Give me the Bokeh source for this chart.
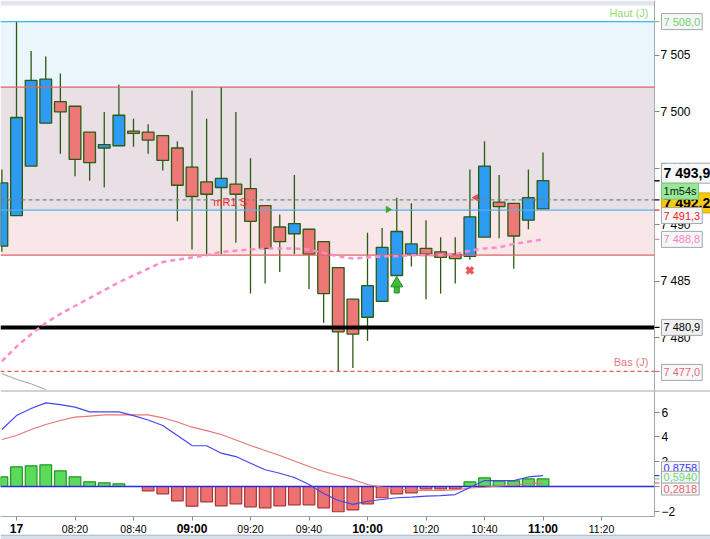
import math
from bokeh.plotting import figure
from bokeh.layouts import column
from bokeh.models import (Range1d, FixedTicker, Span, BoxAnnotation, ColumnDataSource, LinearAxis)
from bokeh.core.properties import value
from bokeh.embed import file_html
from bokeh.resources import INLINE

# ---------------- data ----------------
times = ["07:55", "08:00", "08:05", "08:10", "08:15", "08:20", "08:25", "08:30", "08:35", "08:40",
         "08:45", "08:50", "08:55", "09:00", "09:05", "09:10", "09:15", "09:20", "09:25", "09:30",
         "09:35", "09:40", "09:45", "09:50", "09:55", "10:00", "10:05", "10:10", "10:15", "10:20",
         "10:25", "10:30", "10:35", "10:40", "10:45", "10:50", "10:55", "11:00"]

opens = [7488.1, 7490.8, 7495.2, 7499.0, 7500.9, 7500.5, 7498.2, 7496.8, 7497.0, 7498.3,
         7498.2, 7497.9, 7496.8, 7495.1, 7493.8, 7493.3, 7493.6, 7493.2, 7491.7, 7489.8,
         7489.2, 7489.6, 7488.5, 7486.2, 7483.4, 7481.8, 7483.2, 7485.5, 7487.4, 7487.9,
         7487.6, 7487.4, 7487.2, 7488.9, 7492.0, 7491.9, 7490.4, 7491.4]
highs = [7494.9, 7508.0, 7505.4, 7504.9, 7503.4, 7500.5, 7498.2, 7500.0, 7502.4, 7499.4,
         7498.9, 7497.9, 7497.4, 7501.9, 7499.4, 7502.2, 7500.0, 7495.9, 7491.7, 7490.9,
         7494.4, 7489.6, 7488.5, 7486.2, 7483.4, 7489.3, 7489.7, 7492.4, 7491.9, 7490.4,
         7488.9, 7488.9, 7494.9, 7497.4, 7494.4, 7491.9, 7494.9, 7496.4]
lows = [7487.6, 7490.8, 7495.2, 7499.0, 7496.3, 7494.3, 7493.9, 7493.3, 7497.0, 7496.9,
        7496.3, 7494.8, 7490.3, 7487.8, 7487.4, 7487.4, 7488.4, 7483.9, 7484.8, 7485.8,
        7487.4, 7484.3, 7481.3, 7477.0, 7477.3, 7479.7, 7483.2, 7485.5, 7486.3, 7483.4,
        7483.9, 7484.8, 7486.9, 7488.9, 7488.8, 7486.1, 7489.6, 7491.4]
closes = [7493.7, 7499.5, 7502.8, 7502.9, 7500.0, 7495.8, 7495.5, 7497.1, 7499.7, 7498.1,
          7497.5, 7495.7, 7493.5, 7492.5, 7492.7, 7494.1, 7492.7, 7490.3, 7487.9, 7488.5,
          7490.1, 7487.4, 7483.9, 7480.5, 7480.3, 7484.6, 7488.0, 7489.4, 7488.3, 7487.4,
          7487.1, 7487.0, 7490.7, 7495.2, 7491.6, 7489.0, 7492.4, 7493.9]

ma_pink = [7477.9, 7479.2, 7480.3, 7481.3, 7482.1, 7482.8, 7483.5, 7484.2, 7484.9, 7485.5,
           7486.1, 7486.7, 7486.9, 7487.1, 7487.3, 7487.6, 7487.7, 7487.8, 7487.9, 7487.9,
           7487.9, 7487.8, 7487.5, 7487.2, 7487.0, 7487.1, 7487.2, 7487.2, 7487.3, 7487.3,
           7487.3, 7487.4, 7487.7, 7487.9, 7488.0, 7488.3, 7488.5, 7488.7]

ma_grey_times = ["07:55", "08:00", "08:05", "08:10"]
ma_grey = [7476.8, 7476.3, 7475.9, 7475.4]

macd = [4.60, 5.73, 6.30, 6.76, 6.62, 6.41, 6.03, 6.03, 6.03, 5.73,
        5.37, 4.93, 4.12, 3.31, 3.29, 2.69, 2.42, 1.88, 1.35, 1.07,
        0.73, 0.16, -0.57, -1.13, -1.45, -1.19, -1.05, -0.91, -0.86, -0.78,
        -0.73, -0.65, -0.08, 0.48, 0.48, 0.48, 0.77, 0.88]
signal = [3.80, 4.12, 4.60, 5.01, 5.33, 5.60, 5.69, 5.78, 5.79, 5.79,
          5.78, 5.55, 5.21, 4.79, 4.52, 4.20, 3.76, 3.31, 2.91, 2.50,
          2.06, 1.62, 1.21, 0.89, 0.57, 0.16, -0.06, -0.20, -0.32, -0.32,
          -0.32, -0.28, -0.12, -0.06, 0.04, 0.12, 0.24, 0.28]
histo = [0.78, 1.59, 1.67, 1.75, 1.27, 0.78, 0.38, 0.30, 0.22, 0.0,
         -0.35, -0.59, -1.16, -1.59, -1.24, -1.56, -1.40, -1.64, -1.72, -1.56,
         -1.48, -1.48, -1.72, -2.04, -1.88, -1.40, -0.91, -0.59, -0.51, -0.19,
         -0.19, -0.19, 0.38, 0.70, 0.46, 0.46, 0.62, 0.62]

day_high = 7508.0
day_low = 7477.0
pivot_r1 = 7502.2
pivot_mr1 = 7491.3
pivot_p = 7487.3
last_price = 7492.2
support = 7480.9

tick_times = ["08:00", "08:20", "08:40", "09:00", "09:20", "09:40", "10:00", "10:20", "10:40", "11:00", "11:20"]
tick_texts = ["17", "08:20", "08:40", "09:00", "09:20", "09:40", "10:00", "10:20", "10:40", "11:00", "11:20"]
tick_bold = [True, False, False, True, False, False, True, False, False, True, False]

price_ticks = [7480, 7485, 7490, 7495, 7500, 7505]
macd_ticks = [-2, 0, 2, 4, 6]

buy_arrow = ("10:10", 7484.8)
sell_cross = ("10:35", 7485.95)
green_flag = ("10:07", 7491.35)
red_flag = ("10:37", 7492.4)

# ---------------- helpers ----------------
def tm(s):
    h, m = s.split(":")
    return int(h) * 60 + int(m) - 480

FONT = "Liberation Sans"
AXC = "#A0A8B0"
t = [tm(s) for s in times]
x_start, x_end = -5.47, 237.26
axis_x = 218.12           # time at which the value scales are drawn
px = 1 / 2.925            # minutes per pixel
x_range = Range1d(x_start, x_end)


def style_axis(a, size="12px"):
    a.major_label_text_font = FONT
    a.major_label_text_font_size = size
    a.major_label_text_color = "black"
    a.major_tick_in = 0
    a.minor_tick_in = 0
    a.minor_tick_out = 0
    a.axis_line_color = AXC
    a.major_tick_line_color = "#808890"


def hline(p, yv, color, width=1.2, dash="solid", x1=None):
    p.segment(x0=[x_start], x1=[axis_x if x1 is None else x1], y0=[yv], y1=[yv], line_color=color,
              line_width=width, line_dash=dash)


def tag(p, text, yv, color, bg="#F6F7F8", border=AXC, bold=False, size="11px", dy=0):
    r1 = p.segment(x0=[axis_x], x1=[axis_x + 5 * px], y0=[yv], y1=[yv], line_color=color,
                   line_width=1.2)
    r2 = p.text(x=[axis_x], y=[yv], text=[text], x_offset=7, y_offset=-dy,
                text_font=value(FONT), text_font_size=size,
                text_font_style="bold" if bold else "normal", text_color=color,
                text_align="left", text_baseline="middle",
                background_fill_color=bg, background_fill_alpha=1,
                border_line_color=border, border_line_width=1, padding=2)
    r1.level = "overlay"
    r2.level = "overlay"


# ---------------- price panel ----------------
p1 = figure(width=710, height=390, x_range=x_range, y_range=Range1d(7475.31, 7509.87),
            output_backend="svg", toolbar_location=None, x_axis_location=None,
            y_axis_location=None, min_border_left=0, min_border_right=0,
            min_border_top=0, min_border_bottom=0)
p1.xgrid.visible = False
p1.ygrid.visible = False
p1.outline_line_color = None
p1.background_fill_color = "white"
p1.border_fill_color = "white"

ax = LinearAxis(fixed_location=axis_x, ticker=FixedTicker(ticks=price_ticks),
                major_label_overrides={v: "7 " + str(v)[1:] for v in price_ticks})
style_axis(ax)
ax.major_tick_out = 5
ax.major_label_standoff = 1
p1.add_layout(ax, "right")

# top tab strip and background zones
p1.add_layout(BoxAnnotation(bottom=7509.43, right=axis_x, fill_color="#E2E6EA", fill_alpha=1,
                            line_color=None, level="underlay"))
p1.add_layout(BoxAnnotation(bottom=pivot_r1, top=day_high, right=axis_x, fill_color="#EAF6FC",
                            fill_alpha=1, line_color=None, level="underlay"))
p1.add_layout(BoxAnnotation(bottom=pivot_mr1, top=pivot_r1, right=axis_x, fill_color="#E9E0E5",
                            fill_alpha=1, line_color=None, level="underlay"))
p1.add_layout(BoxAnnotation(bottom=pivot_p, top=pivot_mr1, right=axis_x, fill_color="#F8E6E8",
                            fill_alpha=1, line_color=None, level="underlay"))

p1.line([tm(s) for s in ma_grey_times], ma_grey, line_color="#A0A0A0", line_width=1)

# candles
src = ColumnDataSource(dict(
    t=t, h=highs, l=lows,
    top=[max(o, c) for o, c in zip(opens, closes)],
    bot=[min(o, c) for o, c in zip(opens, closes)],
    fill=["#2E9BF2" if c >= o else "#EE7878" for o, c in zip(opens, closes)],
))
p1.segment(x0="t", y0="h", x1="t", y1="l", source=src, line_color="#2B5A12", line_width=1.3)
p1.vbar(x="t", width=4.0, top="top", bottom="bot", fill_color="fill", line_color="#2B5A12",
        line_width=1.3, source=src)

# horizontal levels
hline(p1, day_high, "#3CB8F0")
hline(p1, pivot_r1, "#E06464")
hline(p1, pivot_mr1, "#5AB0EA")
hline(p1, pivot_p, "#E06464")
hline(p1, last_price, "#808080", dash="4 3")
hline(p1, support, "black", width=4)
hline(p1, day_low, "#E05A5A", dash="4 3")

p1.line(t, ma_pink, line_color="#FF8CC8", line_width=2.5, line_dash="5 4")

# signals
p1.vbar(x=[tm(buy_arrow[0])], top=[buy_arrow[1] - 0.25], bottom=[buy_arrow[1] - 0.85], width=1.7,
        fill_color="#3CC03C", line_color="#2A8A2A", line_width=1)
p1.scatter(x=[tm(buy_arrow[0])], y=[buy_arrow[1]], marker="triangle", size=12,
           fill_color="#3CC03C", line_color="#2A8A2A", line_width=1)
p1.scatter(x=[tm(sell_cross[0])], y=[sell_cross[1]], marker="x", size=9, line_color="#E85A5A",
           line_width=3.5)
p1.scatter(x=[tm(green_flag[0])], y=[green_flag[1]], marker="triangle", size=6, angle=-math.pi / 2,
           fill_color="#30B030", line_color="#30B030")
p1.scatter(x=[tm(red_flag[0])], y=[red_flag[1]], marker="triangle", size=6, angle=math.pi / 2,
           fill_color="#E05050", line_color="#E05050")

# in-chart texts
p1.text(x=[axis_x], y=[day_high], x_offset=-6, y_offset=-3, text=["Haut (J)"],
        text_font=value(FONT), text_font_size="11px", text_color="#96DC6E",
        text_align="right", text_baseline="bottom")
p1.text(x=[axis_x], y=[day_low], x_offset=-6, y_offset=-3, text=["Bas (J)"],
        text_font=value(FONT), text_font_size="11px", text_color="#E87A84",
        text_align="right", text_baseline="bottom")
r_mr1 = p1.text(x=[67.3], y=[pivot_mr1], y_offset=-2, text=["mR1 S"], text_font=value(FONT),
                text_font_size="11px", text_color="#F02828", text_align="left",
                text_baseline="bottom")
r_mr1.level = "overlay"

# right side value tags
tag(p1, "7 508,0", day_high, "#70D470")
tag(p1, "7 492,2", last_price, "black", bg="#F9C812", border="#D8A800", bold=True, size="14px", dy=-3)
tag(p1, "7 493,9", closes[-1], "black", bold=True, size="14px", dy=7.5)
tag(p1, "1m54s", closes[-1], "#0A2A0A", bg="#9BE69B", border="#7CC87C", size="11px", dy=-10.5)
tag(p1, "7 491,3", pivot_mr1, "#F01E1E", dy=-5.5)
tag(p1, "7 488,8", ma_pink[-1], "#FF80C0", dy=0)
tag(p1, "7 480,9", support, "black", bg="#F0F0F0", dy=0)
tag(p1, "7 477,0", day_low, "#E86878", dy=-1)

# ---------------- MACD panel ----------------
axis_y = -2.423           # value at which the time scale is drawn
y2 = Range1d(-4.281, 7.755)
p2 = figure(width=710, height=149, x_range=x_range, y_range=y2,
            output_backend="svg", toolbar_location=None, x_axis_location=None,
            y_axis_location=None, min_border_left=0, min_border_right=0,
            min_border_top=0, min_border_bottom=0)
p2.xgrid.visible = False
p2.ygrid.visible = False
p2.outline_line_color = None
p2.background_fill_color = "white"
p2.border_fill_color = "white"
p2.add_layout(Span(location=y2.end, dimension="width", line_color=AXC, line_width=2))
# bottom window strip
p2.add_layout(BoxAnnotation(top=-3.934, bottom=y2.start, fill_color="#D6E0EA", fill_alpha=1,
                            line_color=None, level="underlay"))
hline(p2, -3.934, "#A8B6C4", width=1, x1=x_end)

ay = LinearAxis(fixed_location=axis_x, ticker=FixedTicker(ticks=macd_ticks), bounds=(axis_y, y2.end))
style_axis(ay)
ay.major_tick_out = 5
ay.major_label_standoff = 2
p2.add_layout(ay, "right")

tick_pos = [tm(s) for s in tick_times]
norm_pos = [pv for pv, b in zip(tick_pos, tick_bold) if not b]
bold_pos = [pv for pv, b in zip(tick_pos, tick_bold) if b]
ax_n = LinearAxis(fixed_location=axis_y, ticker=FixedTicker(ticks=norm_pos),
                  major_label_overrides={pv: txt for pv, txt, b in zip(tick_pos, tick_texts, tick_bold) if not b},
                  bounds=(x_start, axis_x))
style_axis(ax_n, "10.5px")
ax_n.major_tick_out = 4
ax_n.major_label_standoff = 3
p2.add_layout(ax_n, "below")
ax_b = LinearAxis(fixed_location=axis_y, ticker=FixedTicker(ticks=bold_pos),
                  major_label_overrides={pv: txt for pv, txt, b in zip(tick_pos, tick_texts, tick_bold) if b},
                  bounds=(x_start, axis_x))
style_axis(ax_b, "12px")
ax_b.major_label_text_font_style = "bold"
ax_b.major_tick_out = 4
ax_b.major_label_standoff = 2
p2.add_layout(ax_b, "below")

hsrc = ColumnDataSource(dict(
    t=t, v=histo,
    fill=["#5ADC5A" if v >= 0 else "#EC7272" for v in histo],
    line=["#22962A" if v >= 0 else "#A83434" for v in histo],
))
p2.vbar(x="t", top="v", bottom=0, width=4.0, fill_color="fill", line_color="line", line_width=1.2,
        source=hsrc)
hline(p2, 0, "#2A2AE0", width=1.5)
p2.line(t, signal, line_color="#E87676", line_width=1.2)
p2.line(t, macd, line_color="#4646EC", line_width=1.2)

tag(p2, "0,8758", macd[-1], "#3838F0", dy=8)
tag(p2, "0,5940", histo[-1], "#70D870", dy=1.5)
tag(p2, "0,2818", signal[-1], "#E86868", dy=-6)

layout = column(p1, p2, spacing=0)
with open("out.html", "w") as f:
    f.write(file_html(layout, INLINE))
